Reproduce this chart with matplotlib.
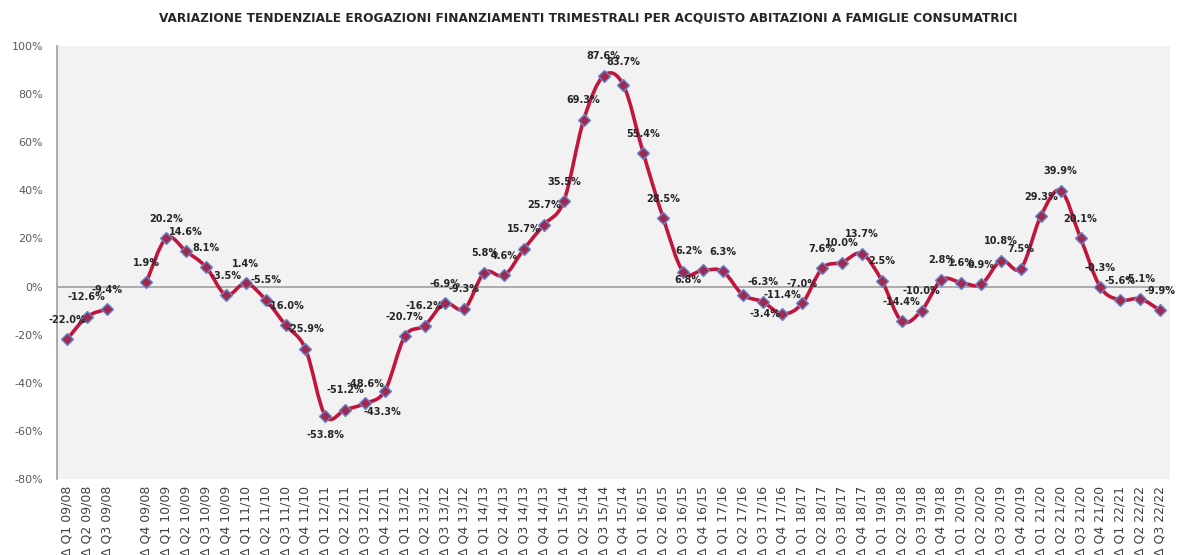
import numpy as np
import matplotlib
matplotlib.use("Agg")
import matplotlib.pyplot as plt
from matplotlib.path import Path
from matplotlib.patches import PathPatch

title = ("VARIAZIONE TENDENZIALE EROGAZIONI FINANZIAMENTI TRIMESTRALI "
         "PER ACQUISTO ABITAZIONI A FAMIGLIE CONSUMATRICI")

categories = [
    "Δ Q1 09/08", "Δ Q2 09/08", "Δ Q3 09/08", "", "Δ Q4 09/08",
    "Δ Q1 10/09", "Δ Q2 10/09", "Δ Q3 10/09", "Δ Q4 10/09",
    "Δ Q1 11/10", "Δ Q2 11/10", "Δ Q3 11/10", "Δ Q4 11/10",
    "Δ Q1 12/11", "Δ Q2 12/11", "Δ Q3 12/11", "Δ Q4 12/11",
    "Δ Q1 13/12", "Δ Q2 13/12", "Δ Q3 13/12", "Δ Q4 13/12",
    "Δ Q1 14/13", "Δ Q2 14/13", "Δ Q3 14/13", "Δ Q4 14/13",
    "Δ Q1 15/14", "Δ Q2 15/14", "Δ Q3 15/14", "Δ Q4 15/14",
    "Δ Q1 16/15", "Δ Q2 16/15", "Δ Q3 16/15", "Δ Q4 16/15",
    "Δ Q1 17/16", "Δ Q2 17/16", "Δ Q3 17/16", "Δ Q4 17/16",
    "Δ Q1 18/17", "Δ Q2 18/17", "Δ Q3 18/17", "Δ Q4 18/17",
    "Δ Q1 19/18", "Δ Q2 19/18", "Δ Q3 19/18", "Δ Q4 19/18",
    "Δ Q1 20/19", "Δ Q2 20/20", "Δ Q3 20/19", "Δ Q4 20/19",
    "Δ Q1 21/20", "Δ Q2 21/20", "Δ Q3 21/20", "Δ Q4 21/20",
    "Δ Q1 22/21", "Δ Q2 22/22", "Δ Q3 22/22",
]

values = [
    -22.0, -12.6, -9.4, None, 1.9,
    20.2, 14.6, 8.1, -3.5,
    1.4, -5.5, -16.0, -25.9,
    -53.8, -51.2, -48.6, -43.3,
    -20.7, -16.2, -6.9, -9.3,
    5.8, 4.6, 15.7, 25.7,
    35.5, 69.3, 87.6, 83.7,
    55.4, 28.5, 6.2, 6.8,
    6.3, -3.4, -6.3, -11.4,
    -7.0, 7.6, 10.0, 13.7,
    2.5, -14.4, -10.0, 2.8,
    1.6, 0.9, 10.8, 7.5,
    29.3, 39.9, 20.1, -0.3,
    -5.6, -5.1, -9.9,
]

y_ticks = [-80, -60, -40, -20, 0, 20, 40, 60, 80, 100]

# label offsets (points) – default above the point
label_offsets = {13: (0, -14), 16: (-2, -15), 32: (-11, -7), 34: (16, -14),
                 28: (0, 17), 31: (4, 15)}

LINE_C = "#C0163E"
MFACE = "#A0294F"
MEDGE = "#6688CC"

fig = plt.figure(figsize=(11.77, 5.55), dpi=100)
ax = fig.add_axes([57 / 1177, 1 - 479 / 555, (1170 - 57) / 1177, (479 - 46) / 555])
ax.set_facecolor("#F2F2F2")

x = np.arange(len(categories))
vals = np.array([np.nan if v is None else v for v in values], dtype=float)


def smooth_path(xs, ys):
    verts = [(xs[0], ys[0])]
    codes = [Path.MOVETO]
    n = len(xs)
    for i in range(n - 1):
        p0 = np.array([xs[max(i - 1, 0)], ys[max(i - 1, 0)]])
        p1 = np.array([xs[i], ys[i]])
        p2 = np.array([xs[i + 1], ys[i + 1]])
        p3 = np.array([xs[min(i + 2, n - 1)], ys[min(i + 2, n - 1)]])
        c1 = p1 + (p2 - p0) / 6.0
        c2 = p2 - (p3 - p1) / 6.0
        verts += [tuple(c1), tuple(c2), tuple(p2)]
        codes += [Path.CURVE4] * 3
    return Path(verts, codes)


# split into contiguous segments
segs = []
cur = []
for i, v in enumerate(vals):
    if np.isnan(v):
        if cur:
            segs.append(cur)
        cur = []
    else:
        cur.append(i)
if cur:
    segs.append(cur)

for s in segs:
    p = smooth_path(x[s].astype(float), vals[s])
    ax.add_patch(PathPatch(p, facecolor="none", edgecolor=LINE_C, lw=2.6,
                           zorder=3, capstyle="round", joinstyle="round"))

ax.plot(x, vals, linestyle="none", marker="D", markersize=6,
        markerfacecolor=MFACE, markeredgecolor=MEDGE, markeredgewidth=1.0, zorder=4)

for i, v in enumerate(vals):
    if np.isnan(v):
        continue
    dx, dy = label_offsets.get(i, (0, 14))
    ax.annotate(f"{v:.1f}%", (x[i], v), xytext=(dx, dy), textcoords="offset points",
                ha="center", va="center", fontsize=7, fontweight="bold",
                color="#262626", zorder=5)

ax.axhline(0, color="#A6A6A6", lw=1.3, zorder=2)
ax.set_xlim(-0.5, len(categories) - 0.5)
ax.set_ylim(-80, 100)
ax.set_yticks(y_ticks)
ax.set_yticklabels([f"{t}%" for t in y_ticks])
ax.set_xticks(x)
ax.set_xticklabels(categories, rotation=90, fontsize=9, color="#404040")
ax.tick_params(axis="y", length=0, pad=10, labelsize=8, labelcolor="#595959")
ax.tick_params(axis="x", length=0, pad=5)
for side in ["top", "right", "bottom"]:
    ax.spines[side].set_visible(False)
ax.spines["left"].set_color("#A6A6A6")
ax.spines["left"].set_linewidth(1.3)

fig.text(588 / 1177, 1 - 18 / 555, title, ha="center", va="center",
         fontsize=8.7, fontweight="bold", color="#262626")

fig.savefig("out.png", dpi=100, facecolor="white")
